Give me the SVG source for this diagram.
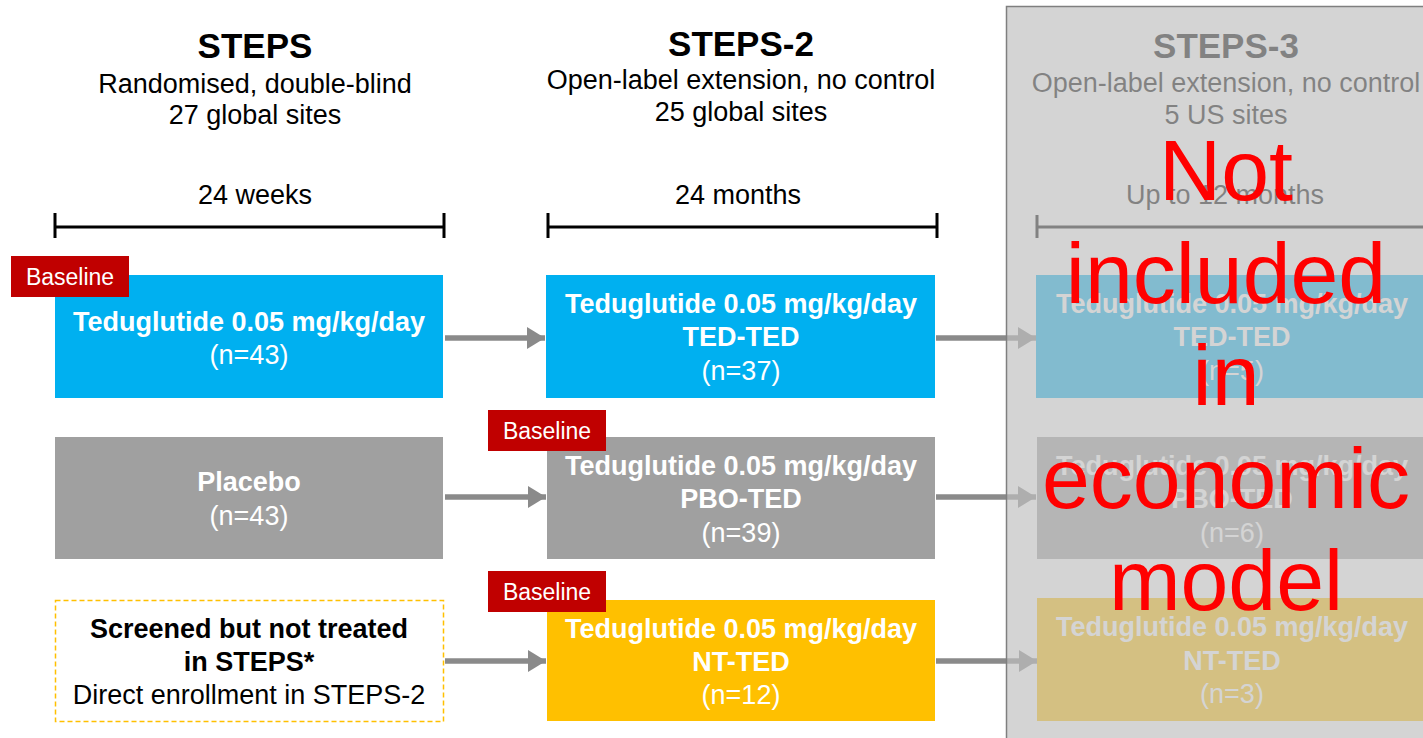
<svg xmlns="http://www.w3.org/2000/svg" width="1423" height="738" viewBox="0 0 1423 738">
<defs>
<style>
text{font-family:"Liberation Sans",Arial,sans-serif;text-anchor:middle}
.h{font-size:35px;font-weight:bold;fill:#000}
.s{font-size:27px;fill:#000}
.b{font-size:27px;font-weight:bold;fill:#fff}
.r{font-size:27px;fill:#fff}
.tag{font-size:23px;fill:#fff}
.bl{font-size:27px;font-weight:bold;fill:#000}
.tl{stroke:#000;stroke-width:3;fill:none}
.con{stroke:#8a8a8a;stroke-width:5.5;fill:none}
.red{font-size:86px;fill:#ff0000}
</style>
<marker id="ah" markerUnits="userSpaceOnUse" markerWidth="20" markerHeight="22" refX="18" refY="11" orient="auto">
<path d="M0,0 L18,11 L0,22 Z" fill="#8a8a8a"/>
</marker>
</defs>
<rect width="1423" height="738" fill="#fff"/>

<g id="header-steps">
<text class="h" x="255" y="58">STEPS</text>
<text class="s" x="255" y="93">Randomised, double-blind</text>
<text class="s" x="255" y="124">27 global sites</text>
<text class="s" x="255" y="204">24 weeks</text>
<path class="tl" d="M55,227 H444 M55,213 V238 M444,213 V238"/>
</g>
<g id="header-steps2">
<text class="h" x="741" y="56">STEPS-2</text>
<text class="s" x="741" y="89">Open-label extension, no control</text>
<text class="s" x="741" y="121">25 global sites</text>
<text class="s" x="738" y="204">24 months</text>
<path class="tl" d="M548,227 H937 M548,213 V238 M937,213 V238"/>
</g>
<g id="header-steps3">
<text class="h" x="1226" y="58">STEPS-3</text>
<text class="s" x="1226" y="92">Open-label extension, no control</text>
<text class="s" x="1226" y="124">5 US sites</text>
<text class="s" x="1225" y="204">Up to 12 months</text>
<path class="tl" d="M1037,227 H1430 M1037,215 V238"/>
</g>

<g id="connectors">
<path class="con" d="M445,338 H545" marker-end="url(#ah)"/>
<path class="con" d="M445,497 H546" marker-end="url(#ah)"/>
<path class="con" d="M445,661 H546" marker-end="url(#ah)"/>
<path class="con" d="M936,338 H1036" marker-end="url(#ah)"/>
<path class="con" d="M936,497 H1036" marker-end="url(#ah)"/>
<path class="con" d="M936,661 H1037" marker-end="url(#ah)"/>
</g>

<g id="steps-ted">
<rect x="55" y="275" width="388" height="123" fill="#00b0f0"/>
<text class="b" x="249" y="331">Teduglutide 0.05 mg/kg/day</text>
<text class="r" x="249" y="364">(n=43)</text>
</g>
<g id="baseline-1">
<rect x="11" y="256" width="118" height="41" fill="#c00000"/>
<text class="tag" x="70" y="285">Baseline</text>
</g>
<g id="steps-placebo">
<rect x="55" y="437" width="388" height="122" fill="#a0a0a0"/>
<text class="b" x="249" y="491">Placebo</text>
<text class="r" x="249" y="525">(n=43)</text>
</g>
<g id="steps-screened">
<rect x="55.5" y="600.5" width="388" height="121" fill="#fff" stroke="#ffc000" stroke-width="1.5" stroke-dasharray="5,3"/>
<text class="bl" x="249" y="638">Screened but not treated</text>
<text class="bl" x="249" y="671">in STEPS*</text>
<text class="s" x="249" y="704">Direct enrollment in STEPS-2</text>
</g>

<g id="steps2-ted-ted">
<rect x="546" y="275" width="389" height="123" fill="#00b0f0"/>
<text class="b" x="741" y="313">Teduglutide 0.05 mg/kg/day</text>
<text class="b" x="741" y="346">TED-TED</text>
<text class="r" x="741" y="380">(n=37)</text>
</g>
<g id="steps2-pbo-ted">
<rect x="547" y="437" width="388" height="122" fill="#a0a0a0"/>
<text class="b" x="741" y="475">Teduglutide 0.05 mg/kg/day</text>
<text class="b" x="741" y="508">PBO-TED</text>
<text class="r" x="741" y="542">(n=39)</text>
</g>
<g id="baseline-2">
<rect x="488" y="410" width="118" height="41" fill="#c00000"/>
<text class="tag" x="547" y="439">Baseline</text>
</g>
<g id="steps2-nt-ted">
<rect x="547" y="600" width="388" height="121" fill="#ffc000"/>
<text class="b" x="741" y="638">Teduglutide 0.05 mg/kg/day</text>
<text class="b" x="741" y="671">NT-TED</text>
<text class="r" x="741" y="704">(n=12)</text>
</g>
<g id="baseline-3">
<rect x="488" y="571" width="118" height="41" fill="#c00000"/>
<text class="tag" x="547" y="600">Baseline</text>
</g>

<g id="steps3-ted-ted">
<rect x="1036" y="275" width="392" height="123" fill="#00b0f0"/>
<text class="b" x="1232" y="313">Teduglutide 0.05 mg/kg/day</text>
<text class="b" x="1232" y="346">TED-TED</text>
<text class="r" x="1232" y="380">(n=5)</text>
</g>
<g id="steps3-pbo-ted">
<rect x="1037" y="437" width="392" height="122" fill="#a0a0a0"/>
<text class="b" x="1232" y="475">Teduglutide 0.05 mg/kg/day</text>
<text class="b" x="1232" y="508">PBO-TED</text>
<text class="r" x="1232" y="542">(n=6)</text>
</g>
<g id="steps3-nt-ted">
<rect x="1037" y="598" width="392" height="123" fill="#ffc000"/>
<text class="b" x="1232" y="636">Teduglutide 0.05 mg/kg/day</text>
<text class="b" x="1232" y="670">NT-TED</text>
<text class="r" x="1232" y="703">(n=3)</text>
</g>

<g id="overlay">
<rect x="1006.5" y="6.5" width="430" height="740" fill="#bfbfbf" fill-opacity="0.68" stroke="#7f7f7f" stroke-width="1.5"/>
<text class="red" x="1226" y="200">Not</text>
<text class="red" x="1226" y="303">included</text>
<text class="red" x="1226" y="405">in</text>
<text class="red" x="1226" y="508">economic</text>
<text class="red" x="1226" y="610">model</text>
</g>
</svg>
